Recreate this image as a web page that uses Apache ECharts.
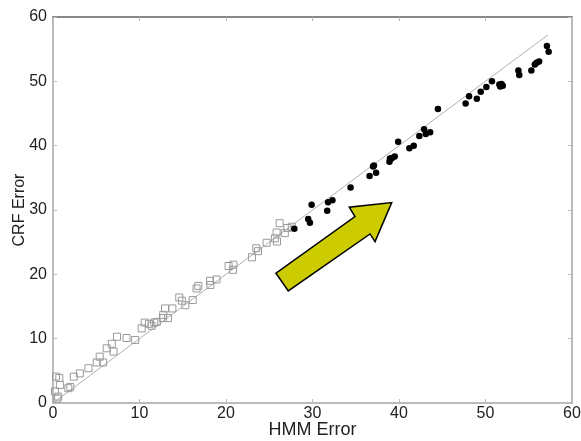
<!DOCTYPE html>
<html>
<head>
<meta charset="utf-8">
<script src="https://cdn.jsdelivr.net/npm/echarts@6/dist/echarts.min.js"></script>
<style>
  html, body { margin: 0; padding: 0; background: #fff; }
  #chart { width: 581px; height: 441px; }
</style>
</head>
<body>
<div id="chart"></div>
<script>
// axis ticks
const axisTicks = [0, 10, 20, 30, 40, 50, 60]

// HMM error vs CRF error, open squares (low error)
const squarePoints = [
  [0.35, 4.1], [0.73, 3.9], [0.23, 1.8], [0.8, 2.8], [0.5, 0.7], [0.6, 1.0],
  [1.77, 2.3], [2.0, 2.5], [2.4, 4.1], [3.1, 4.6], [4.1, 5.4], [5.05, 6.3],
  [5.4, 7.2], [5.8, 6.3], [6.2, 8.5], [6.8, 9.2], [7.0, 8.0], [7.4, 10.3],
  [8.5, 10.1], [9.5, 9.8], [10.25, 11.6], [10.6, 12.5], [11.1, 12.3], [11.4, 12.0],
  [11.7, 12.5], [12.0, 12.6], [12.7, 13.2], [12.75, 13.7], [12.95, 14.7], [13.3, 13.2],
  [13.8, 14.7], [14.6, 16.4], [14.9, 15.9], [15.3, 15.2], [16.15, 16.0], [16.6, 17.8],
  [16.8, 18.2], [18.15, 19.0], [18.2, 18.35], [18.9, 19.2], [20.3, 21.3], [20.85, 21.5],
  [20.8, 20.7], [23.0, 22.65], [23.5, 24.05], [23.7, 23.6], [24.7, 24.9], [25.65, 25.6],
  [25.85, 26.5], [25.9, 25.1], [26.2, 27.95], [26.8, 26.4], [27.1, 27.2], [27.6, 27.4]
]

// filled circles (high error)
const circlePoints = [
  [27.9, 27.1], [29.5, 28.6], [29.7, 28.0], [29.9, 30.8], [31.7, 29.9], [31.8, 31.2],
  [32.3, 31.5], [34.4, 33.5], [36.6, 35.3], [37.35, 35.8], [37.0, 36.75], [37.1, 36.9],
  [38.9, 37.5], [39.0, 37.9], [39.2, 38.1], [39.5, 38.3], [38.95, 38.0], [39.9, 40.6],
  [41.2, 39.6], [41.7, 40.0], [42.35, 41.5], [42.9, 42.55], [43.1, 41.8], [43.6, 42.1],
  [44.5, 45.7], [47.7, 46.55], [48.1, 47.7], [49.0, 47.3], [49.45, 48.4], [50.1, 49.1],
  [50.75, 50.0], [51.6, 49.5], [51.85, 49.6], [52.0, 49.3], [51.7, 49.2], [53.8, 51.7],
  [53.9, 51.0], [55.3, 51.7], [55.7, 52.6], [55.9, 52.9], [56.2, 53.1], [57.1, 55.5],
  [57.3, 54.6]
]

// diagonal reference line
const diagonal = [[0, 0], [57.2, 57.2]]

// arrow outline in data units
const arrowShape = [
  [25.78, 20.17], [27.2, 17.42], [36.65, 26.28], [37.23, 25.09],
  [39.16, 31.15], [34.25, 30.44], [34.91, 28.97]
]

const font = 'Liberation Sans, Arial, sans-serif'

function makeAxis(pos, showLabel, lineColor) {
  return {
    type: 'value',
    position: pos,
    min: axisTicks[0],
    max: axisTicks[axisTicks.length - 1],
    interval: 10,
    axisLine: { show: true, onZero: false, lineStyle: { color: lineColor, width: 2 } },
    axisTick: { show: true, inside: true, length: 4, lineStyle: { color: '#bbb' } },
    axisLabel: { show: showLabel, color: '#222', fontFamily: font, fontSize: 16, margin: pos == 'left' ? 6 : 3 },
    splitLine: { show: false }
  }
}

const chart = echarts.init(document.getElementById('chart'))

const xBottom = makeAxis('bottom', true, '#bbb')
xBottom.name = 'HMM Error'
xBottom.nameLocation = 'middle'
xBottom.nameGap = 18
xBottom.nameMoveOverlap = false
xBottom.nameTextStyle = { color: '#222', fontFamily: font, fontSize: 18 }
const xTop = makeAxis('top', false, '#888')

const yLeft = makeAxis('left', true, '#bbb')
yLeft.name = 'CRF Error'
yLeft.nameLocation = 'middle'
yLeft.nameGap = 25
yLeft.nameMoveOverlap = false
yLeft.nameTextStyle = { color: '#222', fontFamily: font, fontSize: 16 }
const yRight = makeAxis('right', false, '#bbb')

chart.setOption({
  animation: false,
  grid: { left: 53, right: 9, top: 17, bottom: 38, outerBoundsMode: 'none' },
  xAxis: [xBottom, xTop],
  yAxis: [yLeft, yRight],
  series: [
    {
      type: 'line',
      data: diagonal,
      symbol: 'none',
      lineStyle: { color: '#b0b0b0', width: 1 },
      z: 1
    },
    {
      type: 'scatter',
      data: squarePoints,
      symbol: 'rect',
      symbolSize: 7,
      itemStyle: { color: 'rgba(255,255,255,0)', borderColor: '#9a9a9a', borderWidth: 1, opacity: 1 },
      z: 2
    },
    {
      type: 'scatter',
      data: circlePoints,
      symbol: 'circle',
      symbolSize: 6.5,
      itemStyle: { color: '#000', opacity: 1 },
      z: 3
    },
    {
      type: 'custom',
      data: [0],
      renderItem: (params, api) => {
        return {
          type: 'polygon',
          shape: { points: arrowShape.map(p => api.coord(p)) },
          style: { fill: '#cccc00', stroke: '#000', lineWidth: 1.5 }
        }
      },
      z: 4
    }
  ]
})
</script>
</body>
</html>
